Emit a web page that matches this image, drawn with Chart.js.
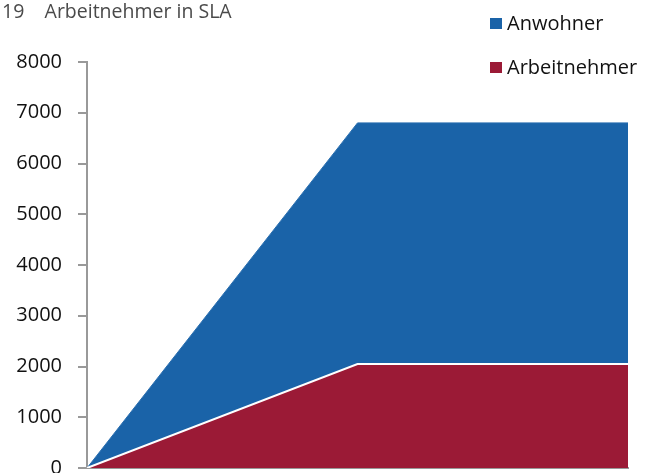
<!DOCTYPE html>
<html><head><meta charset="utf-8">
<script src="https://cdn.jsdelivr.net/npm/chart.js@4/dist/chart.umd.min.js"></script>
<style>
html,body{margin:0;padding:0;background:#fff;}
#wrap{position:relative;width:649px;height:473px;overflow:hidden;font-family:"Open Sans",sans-serif;}
#title{position:absolute;left:2px;top:-3px;font-size:19.5px;color:#4a4a4a;white-space:pre;}
.leg{position:absolute;left:490px;font-size:20px;color:#111;white-space:nowrap;}
.leg span.sw{position:absolute;left:0;width:12px;height:11px;}
.leg span.tx{position:absolute;left:17px;}
canvas{position:absolute;left:0;top:0;}
</style></head>
<body><div id="wrap">
<canvas id="c" width="649" height="500"></canvas>
<div id="title">19    Arbeitnehmer in SLA</div>
<div class="leg" style="top:18px"><span class="sw" style="background:#1a63a8;top:0"></span><span class="tx" style="top:-9px">Anwohner</span></div>
<div class="leg" style="top:62px"><span class="sw" style="background:#9b1a36;top:0"></span><span class="tx" style="top:-9px">Arbeitnehmer</span></div>
</div>
<script>
const categories = ["Phase 1", "Phase 2", "Phase 3"];
const anwohner = [0, 6800, 6800];
const arbeitnehmer = [0, 2050, 2050];
const yTicks = [0, 1000, 2000, 3000, 4000, 5000, 6000, 7000, 8000];

new Chart(document.getElementById('c'), {
  type: 'line',
  data: {
    labels: categories,
    datasets: [
      {label: 'Arbeitnehmer', data: arbeitnehmer, fill: 'origin', backgroundColor: '#9b1a36', borderColor: '#ffffff', borderWidth: 2, pointRadius: 0, tension: 0, order: 0},
      {label: 'Anwohner', data: anwohner, fill: 'origin', backgroundColor: '#1a63a8', borderColor: '#2a6fb0', borderWidth: 1, pointRadius: 0, tension: 0, order: 1}
    ]
  },
  options: {
    responsive: false,
    animation: false,
    events: [],
    layout: {padding: {top: 62, bottom: 32, right: 21, left: 0}},
    plugins: {legend: {display: false}, tooltip: {enabled: false}},
    scales: {
      x: {
        offset: false,
        ticks: {display: false},
        grid: {display: false, drawTicks: false},
        border: {display: true, color: '#999', width: 2},
        afterFit(s){ s.height = 0; }
      },
      y: {
        min: 0, max: 8000,
        afterBuildTicks(s){ s.ticks = yTicks.map(v => ({value: v})); },
        ticks: {color: '#111', font: {family: 'Open Sans', size: 20}, padding: 16, callback: v => String(v)},
        grid: {drawOnChartArea: false, drawTicks: true, tickLength: 9, color: '#999', lineWidth: 2},
        border: {display: true, color: '#999', width: 2},
        afterFit(s){ s.width = 87; }
      }
    }
  }
});
</script>
</body></html>
